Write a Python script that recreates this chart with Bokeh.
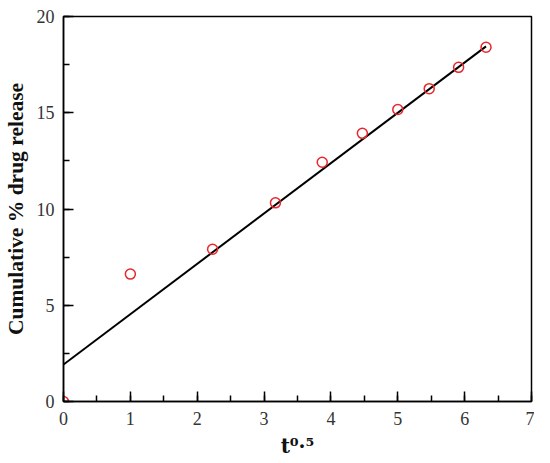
from bokeh.plotting import figure
from bokeh.models import Range1d, SingleIntervalTicker
from bokeh.embed import file_html
from bokeh.resources import INLINE

# data
sqrt_t = [0.0, 1.0, 2.23, 3.17, 3.87, 4.47, 5.0, 5.47, 5.91, 6.32]
release = [0.0, 6.62, 7.91, 10.32, 12.43, 13.93, 15.17, 16.25, 17.36, 18.4]
fit_x = [0.0, 6.32]
fit_y = [1.92, 18.45]

x_label = "t\u2070\u00b7\u2075"   # t^0.5
y_label = "Cumulative % drug release"

FONT = "Liberation Serif"

p = figure(width=534, height=462,
           x_range=Range1d(0, 7), y_range=Range1d(0, 20),
           output_backend="svg", toolbar_location=None,
           min_border_left=55, min_border_right=3,
           min_border_top=16, min_border_bottom=61)

p.background_fill_color = "white"
p.border_fill_color = "white"
p.outline_line_color = "black"
p.outline_line_width = 1.5
p.xgrid.visible = False
p.ygrid.visible = False

p.xaxis.ticker = SingleIntervalTicker(interval=1, num_minor_ticks=2)
p.yaxis.ticker = SingleIntervalTicker(interval=5, num_minor_ticks=2)

for ax in (p.xaxis, p.yaxis):
    ax.axis_line_color = "black"
    ax.axis_line_width = 1.5
    ax.major_tick_in = 10
    ax.major_tick_out = 0
    ax.minor_tick_in = 6
    ax.minor_tick_out = 0
    ax.major_tick_line_color = "black"
    ax.minor_tick_line_color = "black"
    ax.major_tick_line_width = 1.5
    ax.minor_tick_line_width = 1.5
    ax.major_label_text_font = FONT
    ax.major_label_text_font_size = "18px"
    ax.major_label_text_color = "#333333"
    ax.axis_label_text_font_style = "bold"
    ax.axis_label_text_color = "#111111"

p.xaxis.major_label_standoff = 10
p.yaxis.major_label_standoff = 9

p.xaxis.axis_label = x_label
p.xaxis.axis_label_text_font = "DejaVu Serif"
p.xaxis.axis_label_text_font_size = "20px"
p.xaxis.axis_label_standoff = 6

p.yaxis.axis_label = y_label
p.yaxis.axis_label_text_font = FONT
p.yaxis.axis_label_text_font_size = "21.5px"
p.yaxis.axis_label_standoff = 6

p.line(fit_x, fit_y, line_color="black", line_width=2)
p.scatter(sqrt_t, release, marker="circle", size=10, fill_color=None,
          line_color="#e8262b", line_width=1.5)

open("out.html", "w").write(file_html(p, INLINE))
